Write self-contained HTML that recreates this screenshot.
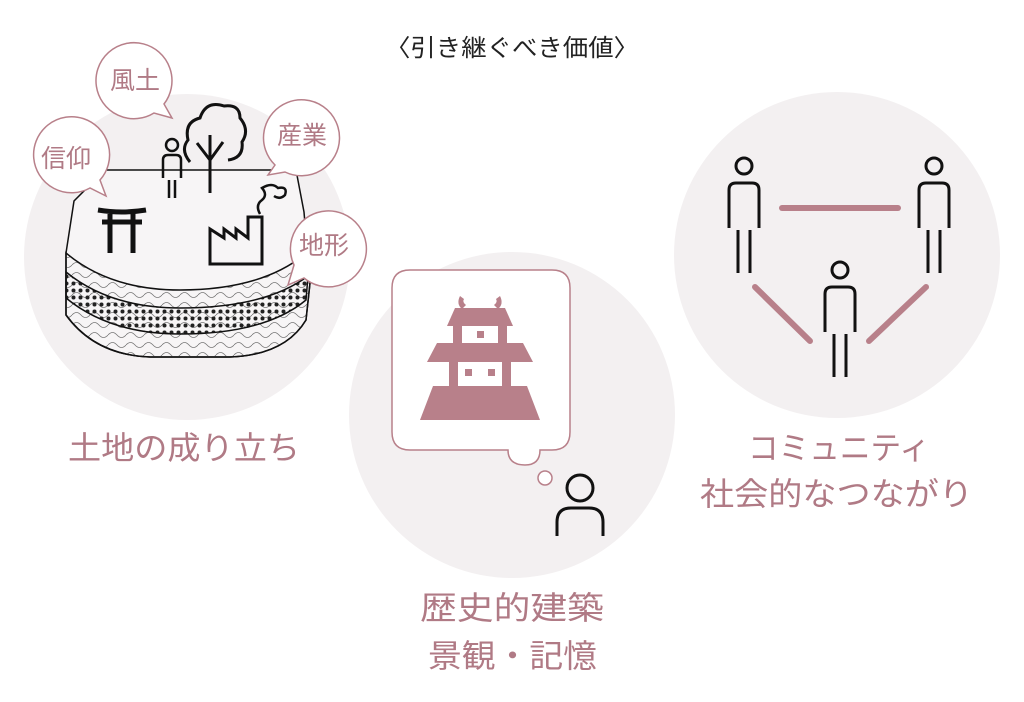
<!DOCTYPE html>
<html><head><meta charset="utf-8"><style>
body{margin:0;background:#fff}
svg{display:block}
text{font-family:"Liberation Sans","Noto Sans CJK JP",sans-serif}
</style></head><body>
<svg width="1024" height="702" viewBox="0 0 1024 702" xmlns="http://www.w3.org/2000/svg">
<defs>
<pattern id="dots" width="7" height="7" patternUnits="userSpaceOnUse"><circle cx="3.5" cy="3.5" r="2" fill="#222"/></pattern>
<pattern id="wav" width="18" height="10" patternUnits="userSpaceOnUse"><path d="M0 5 Q4.5 0 9 5 T18 5" fill="none" stroke="#777" stroke-width="0.8"/></pattern>
<g id="p"><circle cx="0" cy="0" r="8" fill="none" stroke="#111" stroke-width="3"/><path d="M-15 62 V24 Q-15 17 -8 17 H8 Q15 17 15 24 V62" fill="none" stroke="#111" stroke-width="3"/><path d="M-6 64 V107 M6 64 V107" stroke="#111" stroke-width="3"/></g>
</defs>
<circle cx="187" cy="257" r="163" fill="#f3f0f1"/>
<circle cx="512" cy="415" r="163" fill="#f3f0f1"/>
<circle cx="837" cy="255" r="163" fill="#f3f0f1"/>
<text x="385" y="56" font-size="24" textLength="254" lengthAdjust="spacingAndGlyphs" fill="#222">〈引き継ぐべき価値〉</text>
<!-- land -->
<path d="M105 170 H296 L304 212 L310 283 L306 320 Q285 355 230 357 H150 Q95 355 66 315 V253 L74 201 Z" fill="#f7f5f6" stroke="#111" stroke-width="1.5"/>
<path d="M66 253 Q110 290 180 290 Q260 290 304 255 L310 283 L306 320 Q285 355 230 357 H150 Q95 355 66 315 Z" fill="url(#wav)" stroke="#111" stroke-width="1.5"/>
<path d="M66 272 Q110 308 180 308 Q265 308 308 276 L306 300 Q265 334 180 334 Q110 334 66 298 Z" fill="url(#dots)" stroke="#111" stroke-width="1.5"/>
<!-- torii -->
<path d="M98 210 Q122 214 146 210 M102 222 H142 M110 214 V253 M133 214 V253" stroke="#111" stroke-width="5" fill="none"/>
<!-- factory -->
<path d="M210 264 V229 L224 238 V229 L236 238 V229 L248 238 V217 H262 V264 Z" fill="none" stroke="#111" stroke-width="3"/>
<path d="M260 214 Q255 205 262 200 Q268 195 262 188 Q272 182 278 188 Q288 186 285 195 Q280 200 274 196" fill="none" stroke="#111" stroke-width="2.5"/>
<!-- person + tree -->
<circle cx="172" cy="145" r="6" fill="none" stroke="#111" stroke-width="2.5"/>
<path d="M163 178 V160 Q163 155 168 155 H176 Q181 155 181 160 V178 M169 180 V198 M175 180 V198" fill="none" stroke="#111" stroke-width="2.5"/>
<path d="M210 193 V140 M210 160 L197 143 M210 160 L223 142 M210 150 V135" stroke="#111" stroke-width="3" fill="none"/>
<path d="M190 162 Q180 150 188 140 Q184 122 200 118 Q206 100 224 106 Q240 104 240 118 Q250 130 242 142 Q244 158 228 160" fill="none" stroke="#111" stroke-width="3"/>
<!-- bubbles -->
<g fill="#fff" stroke="#b8808a" stroke-width="1.5">
<path d="M154 113 A38 38 0 1 1 164 104 L172 118 Z"/>
<path d="M90 188 A38 38 0 1 1 100 180 L106 196 Z"/>
<path d="M275 165 A38 38 0 1 1 285 172 L268 175 Z"/>
<path d="M294 265 A38 38 0 1 1 304 278 L288 285 Z"/>
</g>
<g font-size="25" fill="#b07a85" text-anchor="middle">
<text x="135" y="89">風土</text><text x="66" y="167">信仰</text><text x="302" y="144">産業</text><text x="324" y="254">地形</text>
</g>
<text x="68" y="459" font-size="32" textLength="232" lengthAdjust="spacingAndGlyphs" fill="#b07a85">土地の成り立ち</text>
<!-- thought -->
<path d="M410 270 H552 Q570 270 570 288 V432 Q570 450 552 450 H540 Q540 465 525 465 Q508 465 508 450 H410 Q392 450 392 432 V288 Q392 270 410 270 Z" fill="#fff" stroke="#b8808a" stroke-width="1.5"/>
<circle cx="545" cy="478" r="7" fill="#fff" stroke="#b8808a" stroke-width="1.5"/>
<circle cx="580" cy="488" r="13" fill="none" stroke="#111" stroke-width="3"/>
<path d="M557 536 V522 Q557 508 571 508 H589 Q603 508 603 522 V536" fill="none" stroke="#111" stroke-width="3"/>
<g fill="#b8808a">
<path d="M460 296 Q456 304 462 309 L466 305 Q462 302 464 299 Z M500 296 Q504 304 498 309 L494 305 Q498 302 496 299 Z"/>
<path d="M455 308 H505 L513 326 H447 Z"/>
<path d="M453 326 H462 V343 H453 Z M498 326 H507 V343 H498 Z"/>
<path d="M437 343 H523 L533 362 H427 Z"/>
<path d="M449 362 H458 V386 H449 Z M502 362 H511 V386 H502 Z"/>
<path d="M433 386 H527 L540 420 H420 Z"/>
<rect x="477" y="331" width="7" height="7"/><rect x="465" y="369" width="7" height="7"/><rect x="488" y="369" width="7" height="7"/>
</g>
<text x="420" y="619" font-size="32" textLength="184" lengthAdjust="spacingAndGlyphs" fill="#b07a85">歴史的建築</text>
<text x="428" y="667" font-size="32" textLength="169" lengthAdjust="spacingAndGlyphs" fill="#b07a85">景観・記憶</text>
<!-- community -->
<g stroke="#b8808a" stroke-width="6" stroke-linecap="round">
<line x1="782" y1="208" x2="898" y2="208"/><line x1="755" y1="287" x2="810" y2="341"/><line x1="926" y1="287" x2="869" y2="341"/>
</g>
<use href="#p" x="744" y="166"/><use href="#p" x="934" y="166"/><use href="#p" x="840" y="270"/>
<text x="748" y="459" font-size="32" textLength="182" lengthAdjust="spacingAndGlyphs" fill="#b07a85">コミュニティ</text>
<text x="700" y="505" font-size="32" textLength="273" lengthAdjust="spacingAndGlyphs" fill="#b07a85">社会的なつながり</text>
</svg>
</body></html>
